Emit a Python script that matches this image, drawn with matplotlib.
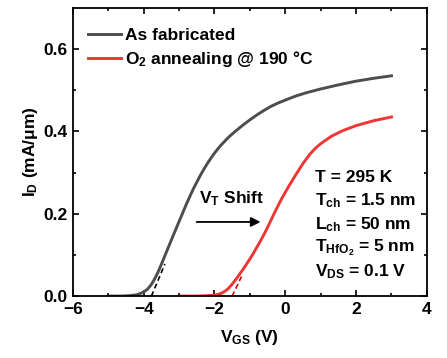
import matplotlib
matplotlib.use('Agg')
import matplotlib.pyplot as plt
import numpy as np

plt.rcParams['font.family'] = 'Liberation Sans'
plt.rcParams['font.weight'] = 'bold'
plt.rcParams['font.size'] = 12.5
plt.rcParams['mathtext.fontset'] = 'custom'
plt.rcParams['mathtext.rm'] = 'Liberation Sans:bold'
plt.rcParams['mathtext.it'] = 'Liberation Sans:bold'
plt.rcParams['mathtext.bf'] = 'Liberation Sans:bold'
plt.rcParams['mathtext.default'] = 'rm'

# transfer curves, I_D vs V_GS
vgs_fab = [-5.0, -4.6, -4.4, -4.2, -4.1, -4.0, -3.9, -3.8, -3.7, -3.6, -3.5, -3.4,
           -3.2, -3.0, -2.8, -2.6, -2.4, -2.3, -2.2, -2.1, -2.0, -1.9, -1.8, -1.6,
           -1.4, -1.2, -1.0, -0.8, -0.6, -0.4, -0.2, 0.0, 0.3, 0.6, 1.0, 1.5, 2.0,
           2.5, 3.0]
id_fab = [0.0, 0.0, 0.001, 0.003, 0.006, 0.010, 0.016, 0.026, 0.040, 0.057, 0.077, 0.098,
          0.140, 0.181, 0.222, 0.260, 0.293, 0.308, 0.322, 0.335, 0.347, 0.358, 0.368, 0.386,
          0.401, 0.415, 0.428, 0.440, 0.451, 0.461, 0.469, 0.476, 0.486, 0.494, 0.503, 0.513,
          0.522, 0.529, 0.535]

vgs_ann = [-3.0, -2.5, -2.2, -2.0, -1.9, -1.8, -1.7, -1.6, -1.5, -1.4, -1.3, -1.2,
           -1.1, -1.0, -0.9, -0.8, -0.7, -0.6, -0.5, -0.3, -0.1, 0.1, 0.3, 0.5,
           0.7, 0.85, 1.0, 1.3, 1.6, 2.0, 2.5, 3.0]
id_ann = [0.0, 0.0, 0.001, 0.002, 0.004, 0.007, 0.012, 0.019, 0.029, 0.040, 0.052, 0.064,
          0.077, 0.090, 0.104, 0.119, 0.134, 0.150, 0.167, 0.203, 0.237, 0.267, 0.295, 0.322,
          0.345, 0.359, 0.370, 0.388, 0.401, 0.414, 0.426, 0.435]

# linear extrapolation (threshold voltage, slope in mA/um per V, end of dashed segment)
vt = [-3.78, -1.50]
gm = [0.205, 0.18]
vt_end = [-3.4, -1.2]

fig = plt.figure(figsize=(4.47, 3.58), dpi=100)
ax = fig.add_axes([0.163, 0.173, 0.792, 0.805])

ax.plot(vgs_fab, id_fab, color='#4d4d4d', lw=2.1, label='As fabricated')
ax.plot(vgs_ann, id_ann, color='#f03535', lw=2.1, label=r'$O_2$ annealing @ 190 °C')

for v0, g, v1, c in zip(vt, gm, vt_end, ['black', '#e00000']):
    xx = np.array([v0, v1])
    ax.plot(xx, g * (xx - v0), color=c, lw=1.2, ls=(0, (3, 2)))

ax.annotate('', xy=(-0.62, 0.18), xytext=(-2.58, 0.18),
            arrowprops=dict(arrowstyle='-|>', color='black', lw=1.3, mutation_scale=14))
ax.text(-2.45, 0.237, r'$V_T$ Shift', fontweight='bold', va='center')

params = [r'T = 295 K', r'$T_{ch}$ = 1.5 nm', r'$L_{ch}$ = 50 nm',
          r'$T_{HfO_2}$ = 5 nm', r'$V_{DS}$ = 0.1 V']
for i, s in enumerate(params):
    ax.text(0.85, 0.289 - i * 0.0575, s, fontweight='bold', va='center')

ax.set_xlim(-6, 4)
ax.set_ylim(0, 0.7)
ax.set_xticks([-6, -4, -2, 0, 2, 4])
ax.set_xticks(np.arange(-5, 4, 2), minor=True)
ax.set_yticks([0.0, 0.2, 0.4, 0.6])
ax.set_yticks([0.1, 0.3, 0.5], minor=True)
ax.yaxis.set_major_formatter(matplotlib.ticker.FormatStrFormatter('%.1f'))
ax.tick_params(which='both', direction='in', top=True, right=True, width=1.2)
ax.tick_params(which='major', length=4.5, pad=4)
ax.tick_params(which='minor', length=2.5)
for sp in ax.spines.values():
    sp.set_linewidth(1.3)

ax.set_xlabel(r'$V_{GS}$ (V)', fontweight='bold', labelpad=8)
ax.set_ylabel(r'$I_D$ (mA/μm)', fontweight='bold', labelpad=2)

ax.legend(loc='upper left', bbox_to_anchor=(0.0, 0.985), frameon=False,
          handlelength=1.85, handletextpad=0.25, labelspacing=0.35)

plt.savefig('out.png', dpi=100)
